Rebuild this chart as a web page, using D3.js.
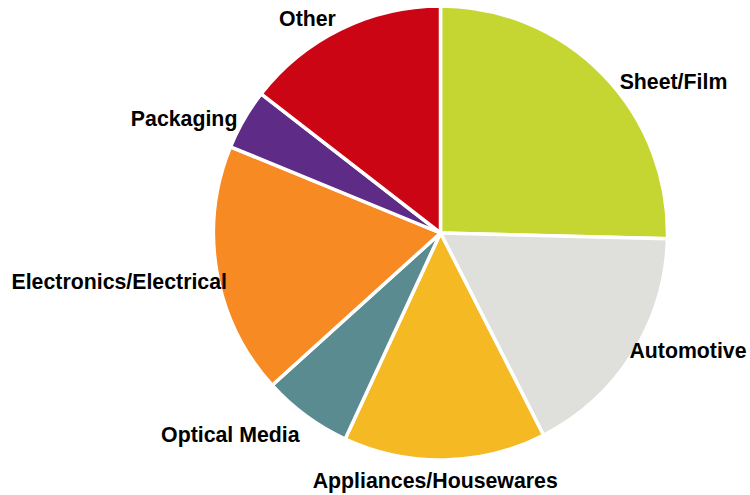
<!DOCTYPE html>
<html>
<head>
<meta charset="utf-8">
<script src="https://cdn.jsdelivr.net/npm/d3@7"></script>
<style>
  html, body { margin: 0; padding: 0; background: #fff; }
  svg { display: block; }
  .label { font-family: "Liberation Sans", Arial, sans-serif; font-weight: bold; font-size: 21.3px; fill: #000; }
</style>
</head>
<body>
<svg id="chart" width="750" height="495"></svg>
<script>
// End-use shares (%), clockwise from 12 o'clock
const categories = ["Sheet/Film", "Automotive", "Appliances/Housewares", "Optical Media",
                    "Electronics/Electrical", "Packaging", "Other"];
const shares = [25.4, 17.1, 14.4, 6.4, 17.9, 4.3, 14.5];
const colors = ["#c5d632", "#dfdfdb", "#f5b924", "#5a8b90", "#f78a22", "#5e2c86", "#cc0515"];

// Manual label nudges (px) from the default outside position
const labelNudge = [[54, 23], [36, -16], [-10, -3], [-62, 0], [-75, 5], [-40, 11], [-23, 10]];

const W = 750, H = 495;
const cx = 440.5, cy = 233, R = 227, labelR = 250;

const svg = d3.select("#chart");
const g = svg.append("g").attr("transform", `translate(${cx},${cy})`);

const data = categories.map((c, i) => ({ name: c, value: shares[i], color: colors[i], i }));

const pie = d3.pie().value(d => d.value).sort(null).startAngle(0).endAngle(2 * Math.PI);
const arc = d3.arc().innerRadius(0).outerRadius(R);
const arcs = pie(data);

g.selectAll("path.slice")
  .data(arcs)
  .join("path")
  .attr("class", "slice")
  .attr("d", arc)
  .attr("fill", d => d.data.color)
  .attr("stroke", "#fff")
  .attr("stroke-width", 3.5)
  .attr("stroke-linejoin", "miter");

const color = d3.scaleOrdinal().domain(categories).range(colors);

g.selectAll("text.label")
  .data(arcs)
  .join("text")
  .attr("class", "label")
  .attr("text-anchor", "middle")
  .attr("x", d => {
    const a = (d.startAngle + d.endAngle) / 2;
    return labelR * Math.sin(a) + labelNudge[d.data.i][0];
  })
  .attr("y", d => {
    const a = (d.startAngle + d.endAngle) / 2;
    return -labelR * Math.cos(a) + labelNudge[d.data.i][1] + 7.6;
  })
  .text(d => d.data.name);
</script>
</body>
</html>
